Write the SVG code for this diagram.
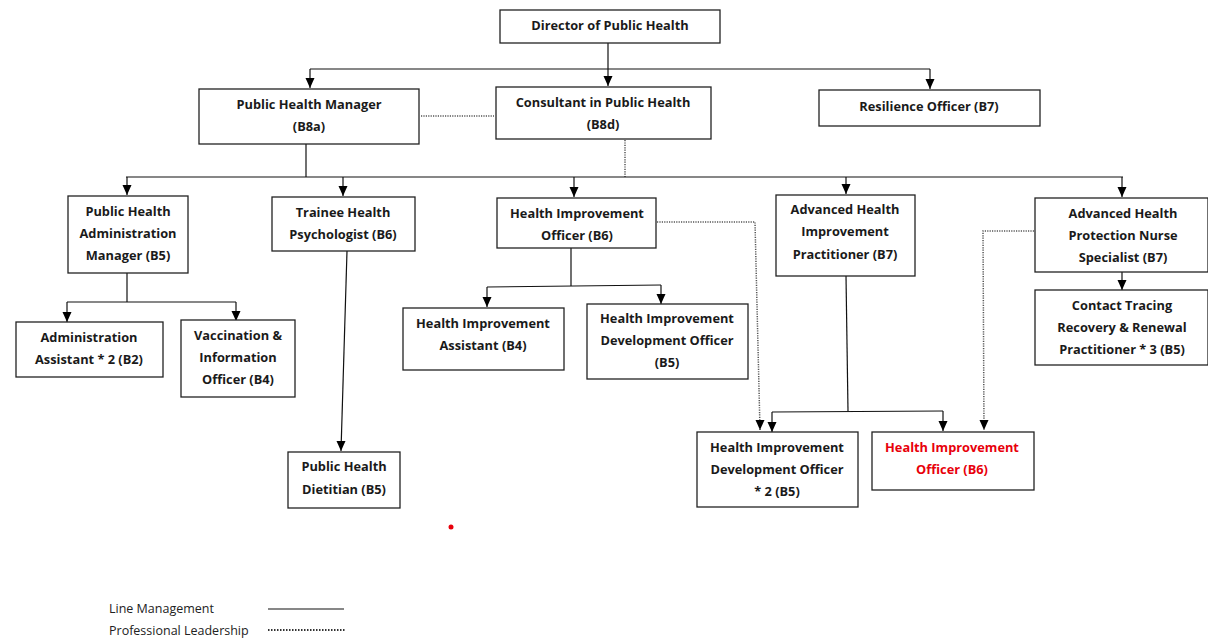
<svg xmlns="http://www.w3.org/2000/svg" width="1208" height="639" viewBox="0 0 1208 639">
<defs>
<marker id="dn" markerWidth="10" markerHeight="10" refX="5" refY="10" markerUnits="userSpaceOnUse" viewBox="0 0 10 10">
<path d="M0.5,0 L9.5,0 L5,10 Z" fill="#000"/>
</marker>
<style>
.box{fill:#fff;stroke:#222;stroke-width:1.3}
.t{font-family:"Open Sans","Liberation Sans",sans-serif;font-weight:bold;font-size:12.8px;fill:#1a1a1a;text-anchor:middle}
.red{fill:#e8000b}
.ln{fill:none;stroke:#111;stroke-width:1.2}
.dt{fill:none;stroke:#555;stroke-width:1.5;stroke-dasharray:1.2 1.2}
.lg{font-family:"Open Sans","Liberation Sans",sans-serif;font-size:12.5px;fill:#222}
</style>
</defs>
<rect width="1208" height="639" fill="#fff"/>
<g id="connectors">
<line class="ln" x1="608" y1="43" x2="608" y2="86" marker-end="url(#dn)"/>
<line class="ln" x1="310" y1="69" x2="930" y2="69"/>
<line class="ln" x1="310" y1="69" x2="310" y2="88" marker-end="url(#dn)"/>
<line class="ln" x1="930" y1="69" x2="930" y2="89" marker-end="url(#dn)"/>
<line class="dt" x1="421" y1="116" x2="494" y2="116"/>
<line class="ln" x1="306" y1="144" x2="306" y2="177"/>
<line class="dt" x1="625" y1="140" x2="625" y2="177"/>
<line class="ln" x1="126" y1="177" x2="1123" y2="177"/>
<line class="ln" x1="127" y1="177" x2="127" y2="195" marker-end="url(#dn)"/>
<line class="ln" x1="343" y1="177" x2="343" y2="196" marker-end="url(#dn)"/>
<line class="ln" x1="574" y1="177" x2="574" y2="197" marker-end="url(#dn)"/>
<line class="ln" x1="846" y1="177" x2="846" y2="194" marker-end="url(#dn)"/>
<line class="ln" x1="1122" y1="177" x2="1122" y2="197" marker-end="url(#dn)"/>
<line class="ln" x1="127" y1="273" x2="127" y2="302"/>
<line class="ln" x1="67" y1="302" x2="236" y2="302"/>
<line class="ln" x1="67" y1="302" x2="67" y2="322" marker-end="url(#dn)"/>
<line class="ln" x1="236" y1="302" x2="236" y2="321" marker-end="url(#dn)"/>
<line class="ln" x1="347" y1="251" x2="341" y2="451" marker-end="url(#dn)"/>
<line class="ln" x1="571" y1="248" x2="571" y2="286"/>
<line class="ln" x1="487" y1="287" x2="661" y2="285"/>
<line class="ln" x1="487" y1="287" x2="487" y2="307" marker-end="url(#dn)"/>
<line class="ln" x1="661" y1="285" x2="661" y2="304" marker-end="url(#dn)"/>
<line class="ln" x1="1122" y1="272" x2="1122" y2="290" marker-end="url(#dn)"/>
<line class="ln" x1="846" y1="276" x2="848" y2="411"/>
<line class="ln" x1="772" y1="412" x2="943" y2="411"/>
<line class="ln" x1="772" y1="412" x2="772" y2="432" marker-end="url(#dn)"/>
<line class="ln" x1="943" y1="411" x2="943" y2="431" marker-end="url(#dn)"/>
<polyline class="dt" points="657,222 755,222 760,430" marker-end="url(#dn)"/>
<polyline class="dt" points="1034,231 983,231 984,430" marker-end="url(#dn)"/>
</g>
<g id="director"><rect class="box" x="500" y="10" width="220" height="33"/><text class="t" x="610" y="30">Director of Public Health</text></g>
<g id="phm"><rect class="box" x="199" y="89" width="220" height="55"/><text class="t" x="309" y="109">Public Health Manager</text><text class="t" x="309" y="131">(B8a)</text></g>
<g id="consultant"><rect class="box" x="496" y="87" width="215" height="52"/><text class="t" x="603" y="107">Consultant in Public Health</text><text class="t" x="603" y="129">(B8d)</text></g>
<g id="resilience"><rect class="box" x="819" y="90" width="221" height="36"/><text class="t" x="929" y="111">Resilience Officer (B7)</text></g>
<g id="pham"><rect class="box" x="68" y="196" width="120" height="77"/><text class="t" x="128" y="216">Public Health</text><text class="t" x="128" y="238">Administration</text><text class="t" x="128" y="260">Manager (B5)</text></g>
<g id="trainee"><rect class="box" x="272" y="197" width="143" height="54"/><text class="t" x="343" y="217">Trainee Health</text><text class="t" x="343" y="239">Psychologist (B6)</text></g>
<g id="hio"><rect class="box" x="497" y="198" width="159" height="50"/><text class="t" x="577" y="218">Health Improvement</text><text class="t" x="577" y="240">Officer (B6)</text></g>
<g id="ahip"><rect class="box" x="776" y="195" width="139" height="81"/><text class="t" x="845" y="214">Advanced Health</text><text class="t" x="845" y="236">Improvement</text><text class="t" x="845" y="259">Practitioner (B7)</text></g>
<g id="ahpns"><rect class="box" x="1035" y="198" width="173" height="74"/><text class="t" x="1123" y="218">Advanced Health</text><text class="t" x="1123" y="240">Protection Nurse</text><text class="t" x="1123" y="262">Specialist (B7)</text></g>
<g id="admin"><rect class="box" x="16" y="322" width="147" height="55"/><text class="t" x="89" y="342">Administration</text><text class="t" x="89" y="364">Assistant * 2 (B2)</text></g>
<g id="vacc"><rect class="box" x="181" y="320" width="114" height="77"/><text class="t" x="238" y="340">Vaccination &amp;</text><text class="t" x="238" y="362">Information</text><text class="t" x="238" y="384">Officer (B4)</text></g>
<g id="hia"><rect class="box" x="403" y="308" width="161" height="62"/><text class="t" x="483" y="328">Health Improvement</text><text class="t" x="483" y="350">Assistant (B4)</text></g>
<g id="hido"><rect class="box" x="587" y="304" width="161" height="75"/><text class="t" x="667" y="323">Health Improvement</text><text class="t" x="667" y="345">Development Officer</text><text class="t" x="667" y="367">(B5)</text></g>
<g id="contact"><rect class="box" x="1035" y="290" width="173" height="75"/><text class="t" x="1122" y="310">Contact Tracing</text><text class="t" x="1122" y="332">Recovery &amp; Renewal</text><text class="t" x="1122" y="354">Practitioner * 3 (B5)</text></g>
<g id="dietitian"><rect class="box" x="288" y="452" width="112" height="56"/><text class="t" x="344" y="471">Public Health</text><text class="t" x="344" y="494">Dietitian (B5)</text></g>
<g id="hido2"><rect class="box" x="697" y="432" width="161" height="75"/><text class="t" x="777" y="452">Health Improvement</text><text class="t" x="777" y="474">Development Officer</text><text class="t" x="777" y="496">* 2 (B5)</text></g>
<g id="hio-red"><rect class="box" x="872" y="432" width="162" height="58"/><text class="t red" x="952" y="452">Health Improvement</text><text class="t red" x="952" y="474">Officer (B6)</text></g>
<circle cx="451" cy="527" r="2.5" fill="#e8000b"/>
<g id="legend">
<text class="lg" x="109" y="613">Line Management</text>
<line x1="268" y1="609" x2="344" y2="609" stroke="#111" stroke-width="1.2"/>
<text class="lg" x="109" y="635">Professional Leadership</text>
<line x1="268" y1="630" x2="345" y2="630" stroke="#333" stroke-width="2" stroke-dasharray="1.5 1.5"/>
</g>
</svg>
